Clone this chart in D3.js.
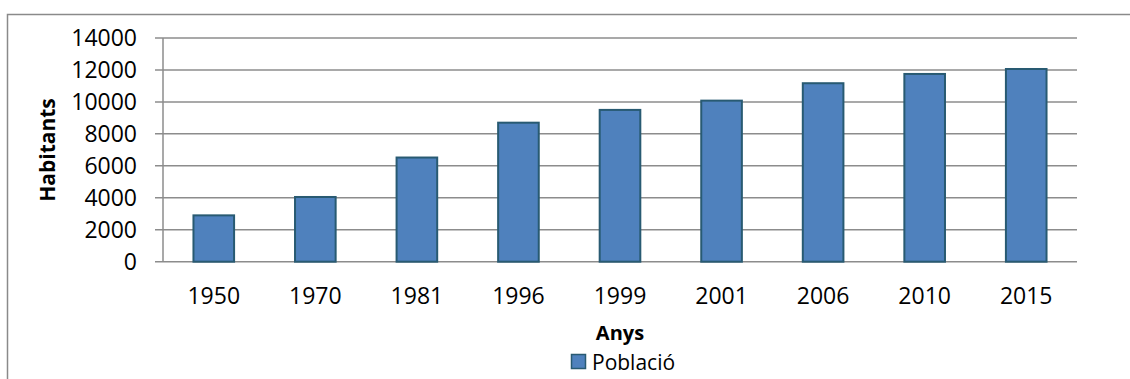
<!DOCTYPE html>
<html><head><meta charset="utf-8">
<script src="https://cdn.jsdelivr.net/npm/d3@7"></script>
<style>body{margin:0;background:#fff;} svg{display:block;}</style>
</head><body>
<svg id="c" width="1130" height="379"></svg>
<script>
const years = ["1950","1970","1981","1996","1999","2001","2006","2010","2015"];
const poblacio = [2900, 4050, 6520, 8700, 9500, 10080, 11170, 11750, 12060];
const yTicks = [0,2000,4000,6000,8000,10000,12000,14000];
const yTitle = "Habitants";
const xTitle = "Anys";
const seriesName = "Població";

const svg = d3.select("#c");
const font = "'Open Sans', 'Noto Sans', sans-serif";
const pLeft = 163, pRight = 1077, pTop = 38, pBottom = 261.7;

// outer chart border (right and bottom outside the picture)
svg.append("rect").attr("x",7.5).attr("y",14.5).attr("width",1140).attr("height",400)
  .attr("fill","none").attr("stroke","#8a8a8a").attr("stroke-width",1.5);

const x = d3.scaleBand().domain(years).range([pLeft,pRight]).paddingInner(0.6).paddingOuter(0.3);
const y = d3.scaleLinear().domain([0,14000]).range([pBottom,pTop]);

// gridlines with outside ticks
svg.append("g").selectAll("line").data(yTicks).join("line")
  .attr("x1",155).attr("x2",pRight).attr("y1",d=>y(d)).attr("y2",d=>y(d))
  .attr("stroke","#8c8c8c").attr("stroke-width",1.5);
// y axis line
svg.append("line").attr("x1",pLeft).attr("x2",pLeft).attr("y1",pTop).attr("y2",pBottom)
  .attr("stroke","#8c8c8c").attr("stroke-width",1.5);

// bars
svg.append("g").selectAll("rect").data(years).join("rect")
  .attr("x",d=>x(d)).attr("width",x.bandwidth())
  .attr("y",(d,i)=>y(poblacio[i])).attr("height",(d,i)=>y(0)-y(poblacio[i]))
  .attr("fill","#4F81BD").attr("stroke","#285a72").attr("stroke-width",2);

// y tick labels
svg.append("g").selectAll("text").data(yTicks).join("text")
  .attr("x",137).attr("y",d=>y(d)).attr("dy","0.36em").attr("text-anchor","end")
  .attr("font-family",font).attr("font-size",23).attr("fill","#000").text(d=>d);

// x tick labels
svg.append("g").selectAll("text").data(years).join("text")
  .attr("x",d=>x(d)+x.bandwidth()/2).attr("y",304).attr("text-anchor","middle")
  .attr("font-family",font).attr("font-size",23).attr("fill","#000").text(d=>d);

// axis titles
svg.append("text").attr("transform","translate(55,150) rotate(-90)").attr("text-anchor","middle")
  .attr("font-family",font).attr("font-size",21).attr("font-weight","bold").text(yTitle);
svg.append("text").attr("x",(pLeft+pRight)/2).attr("y",340).attr("text-anchor","middle")
  .attr("font-family",font).attr("font-size",20).attr("font-weight","bold").text(xTitle);

// legend
svg.append("rect").attr("x",571.5).attr("y",354.5).attr("width",14).attr("height",14)
  .attr("fill","#4F81BD").attr("stroke","#285a72").attr("stroke-width",1.5);
svg.append("text").attr("x",592).attr("y",370).attr("font-family",font).attr("font-size",21)
  .attr("fill","#000").text(seriesName);
</script>
</body></html>
